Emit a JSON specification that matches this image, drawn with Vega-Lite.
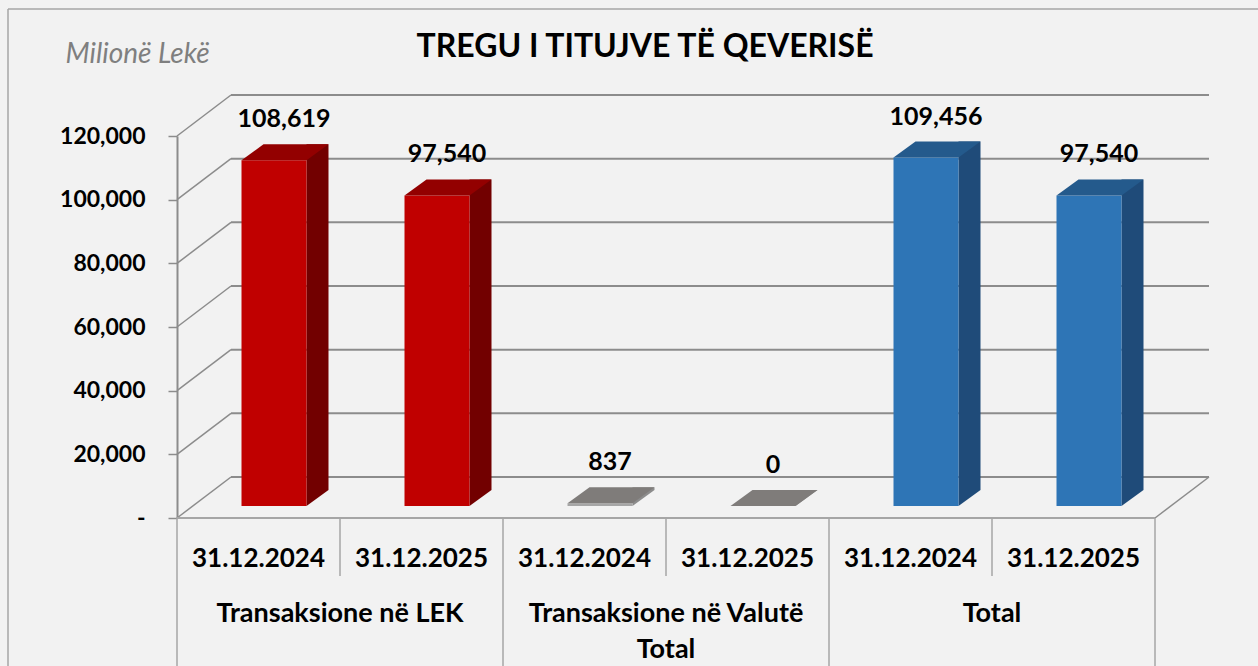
{
  "$schema": "https://vega.github.io/schema/vega-lite/v6.json",
  "width": 978,
  "height": 382,
  "autosize": {"type": "none"},
  "padding": {"left": 177, "top": 136, "right": 103, "bottom": 148},
  "background": "#f2f2f2",
  "config": {"view": {"stroke": null}, "font": "Lato"},
  "title": {
    "text": "TREGU I TITUJVE TË QEVERISË",
    "font": "Lato",
    "fontSize": 32,
    "fontWeight": "bold",
    "color": "#000000",
    "anchor": "middle",
    "baseline": "alphabetic",
    "dx": -21,
    "offset": -81
  },
  "datasets": {
    "bars": [
      {"group": "Transaksione në LEK", "date": "31.12.2024", "key": "LEK|31.12.2024", "series": "LEK", "value": 108619},
      {"group": "Transaksione në LEK", "date": "31.12.2025", "key": "LEK|31.12.2025", "series": "LEK", "value": 97540},
      {"group": "Transaksione në Valutë\nTotal", "date": "31.12.2024", "key": "VAL|31.12.2024", "series": "VAL", "value": 837},
      {"group": "Transaksione në Valutë\nTotal", "date": "31.12.2025", "key": "VAL|31.12.2025", "series": "VAL", "value": 0},
      {"group": "Total", "date": "31.12.2024", "key": "TOT|31.12.2024", "series": "TOT", "value": 109456},
      {"group": "Total", "date": "31.12.2025", "key": "TOT|31.12.2025", "series": "TOT", "value": 97540}
    ],
    "ticks": [{"t": 0}, {"t": 20000}, {"t": 40000}, {"t": 60000}, {"t": 80000}, {"t": 100000}, {"t": 120000}]
  },
  "layer": [
    {
      "data": {"name": "ticks"},
      "encoding": {
        "x": {"datum": 0, "type": "quantitative", "scale": {"domain": [0, 6], "nice": false, "zero": false}, "axis": null}
      },
      "layer": [
        {
          "mark": {"type": "rule", "color": "#8c8c8c", "strokeWidth": 2, "xOffset": 54, "x2Offset": 54, "yOffset": -41},
          "encoding": {
            "x2": {"datum": 6},
            "y": {
              "field": "t",
              "type": "quantitative",
              "scale": {"domain": [0, 120000], "nice": false},
              "axis": {
                "values": [0, 20000, 40000, 60000, 80000, 100000, 120000],
                "labelExpr": "datum.value == 0 ? '-' : format(datum.value, ',')",
                "labelFont": "Lato",
                "labelFontSize": 23,
                "labelFontWeight": "bold",
                "labelColor": "#000000",
                "labelPadding": 23,
                "tickSize": 9,
                "tickColor": "#8c8c8c",
                "tickWidth": 1.5,
                "domainColor": "#8c8c8c",
                "domainWidth": 2,
                "grid": false,
                "title": "Milionë Lekë",
                "titleFont": "Lato",
                "titleFontSize": 28,
                "titleFontStyle": "italic",
                "titleFontWeight": "normal",
                "titleColor": "#7f7f7f",
                "titleAngle": 0,
                "titleAlign": "left",
                "titleBaseline": "alphabetic",
                "titleX": -112,
                "titleY": -74
              }
            }
          }
        },
        {
          "mark": {"type": "rule", "color": "#8c8c8c", "strokeWidth": 1.5, "x2Offset": 54, "y2Offset": -41},
          "encoding": {
            "x2": {"datum": 0},
            "y": {"field": "t", "type": "quantitative"},
            "y2": {"field": "t"}
          }
        },
        {
          "transform": [{"filter": "datum.t == 0"}],
          "mark": {"type": "rule", "color": "#8c8c8c", "strokeWidth": 1.5, "xOffset": 978, "x2Offset": 1032, "y2Offset": -41},
          "encoding": {
            "x2": {"datum": 0},
            "y": {"field": "t", "type": "quantitative"},
            "y2": {"field": "t"}
          }
        },
        {
          "transform": [{"filter": "datum.t == 0"}],
          "mark": {"type": "rule", "color": "#a6a6a6", "strokeWidth": 2},
          "encoding": {
            "x2": {"datum": 6},
            "y": {"field": "t", "type": "quantitative"}
          }
        },
        {
          "transform": [{"filter": "datum.t == 120000"}],
          "mark": {"type": "rule", "color": "#a6a6a6", "strokeWidth": 1.5, "xOffset": -169, "x2Offset": 103, "yOffset": -127},
          "encoding": {
            "x2": {"datum": 6},
            "y": {"field": "t", "type": "quantitative"}
          }
        },
        {
          "transform": [{"filter": "datum.t == 120000"}],
          "mark": {"type": "rule", "color": "#a6a6a6", "strokeWidth": 1.5, "xOffset": -169, "yOffset": -127, "y2Offset": 148},
          "encoding": {
            "y": {"field": "t", "type": "quantitative"},
            "y2": {"datum": 0}
          }
        }
      ]
    },
    {
      "data": {"name": "bars"},
      "encoding": {
        "x": {"field": "key", "type": "nominal", "sort": null, "scale": {"paddingInner": 0, "paddingOuter": 0}, "axis": null}
      },
      "layer": [
        {
          "mark": {"type": "bar", "width": 22, "xOffset": 59, "yOffset": -28, "y2Offset": -28},
          "encoding": {
            "y": {"field": "value", "type": "quantitative"},
            "y2": {"datum": 0},
            "color": {"field": "series", "type": "nominal", "scale": {"domain": ["LEK", "VAL", "TOT"], "range": ["#720000", "#8c8c8c", "#1f4b79"]}, "legend": null}
          }
        },
        {
          "mark": {"type": "point", "filled": true, "opacity": 1, "size": 4, "strokeWidth": 0, "xOffset": 15.5, "yOffset": -12, "shape": "M 32.5 0 L 32.5 -16 L 54.5 -16 Z"},
          "encoding": {
            "y": {"datum": 0, "type": "quantitative"},
            "color": {"field": "series", "type": "nominal", "scale": {"domain": ["LEK", "VAL", "TOT"], "range": ["#720000", "#8c8c8c", "#1f4b79"]}, "legend": null}
          }
        },
        {
          "mark": {"type": "bar", "width": 65, "xOffset": 15.5, "yOffset": -12, "y2Offset": -12},
          "encoding": {
            "y": {"field": "value", "type": "quantitative"},
            "y2": {"datum": 0},
            "color": {"field": "series", "type": "nominal", "scale": {"domain": ["LEK", "VAL", "TOT"], "range": ["#c00000", "#a6a6a6", "#2e75b6"]}, "legend": null}
          }
        },
        {
          "mark": {"type": "point", "filled": true, "opacity": 1, "size": 4, "strokeWidth": 0, "xOffset": 15.5, "yOffset": -12, "shape": "M -32.5 0 L 32.5 0 L 54.5 -16 L -10.5 -16 Z"},
          "encoding": {
            "y": {"field": "value", "type": "quantitative"},
            "color": {"field": "series", "type": "nominal", "scale": {"domain": ["LEK", "VAL", "TOT"], "range": ["#930000", "#7f7c7a", "#245a8c"]}, "legend": null}
          }
        },
        {
          "mark": {"type": "text", "font": "Lato", "fontSize": 25, "fontWeight": "bold", "color": "#000000", "baseline": "middle", "align": "center", "xOffset": 25.5, "yOffset": -53},
          "encoding": {
            "y": {"field": "value", "type": "quantitative"},
            "text": {"field": "value", "type": "quantitative", "format": ","}
          }
        },
        {
          "mark": {"type": "text", "font": "Lato", "fontSize": 26, "fontWeight": "bold", "color": "#000000", "baseline": "alphabetic", "align": "center", "yOffset": 49},
          "encoding": {
            "y": {"datum": 0, "type": "quantitative"},
            "text": {"field": "date", "type": "nominal"}
          }
        },
        {
          "transform": [{"filter": "datum.date == '31.12.2024'"}],
          "mark": {"type": "text", "font": "Lato", "fontSize": 27, "fontWeight": "bold", "color": "#000000", "baseline": "alphabetic", "align": "center", "yOffset": 104, "lineBreak": "\n", "lineHeight": 36},
          "encoding": {
            "x": {"field": "key", "type": "nominal", "sort": null, "bandPosition": 1},
            "y": {"datum": 0, "type": "quantitative"},
            "text": {"field": "group", "type": "nominal"}
          }
        },
        {
          "transform": [{"filter": "datum.date == '31.12.2024'"}],
          "mark": {"type": "rule", "color": "#a6a6a6", "strokeWidth": 1.5, "y2Offset": 148},
          "encoding": {
            "x": {"field": "key", "type": "nominal", "sort": null, "bandPosition": 0},
            "y": {"datum": 0, "type": "quantitative"},
            "y2": {"datum": 0}
          }
        },
        {
          "transform": [{"filter": "datum.date == '31.12.2025'"}],
          "mark": {"type": "rule", "color": "#a6a6a6", "strokeWidth": 1.5, "y2Offset": 58},
          "encoding": {
            "x": {"field": "key", "type": "nominal", "sort": null, "bandPosition": 0},
            "y": {"datum": 0, "type": "quantitative"},
            "y2": {"datum": 0}
          }
        },
        {
          "transform": [{"filter": "datum.key == 'TOT|31.12.2025'"}],
          "mark": {"type": "rule", "color": "#a6a6a6", "strokeWidth": 1.5, "y2Offset": 148},
          "encoding": {
            "x": {"field": "key", "type": "nominal", "sort": null, "bandPosition": 1},
            "y": {"datum": 0, "type": "quantitative"},
            "y2": {"datum": 0}
          }
        }
      ],
      "resolve": {"scale": {"color": "independent"}}
    }
  ],
  "resolve": {"scale": {"x": "independent"}}
}
